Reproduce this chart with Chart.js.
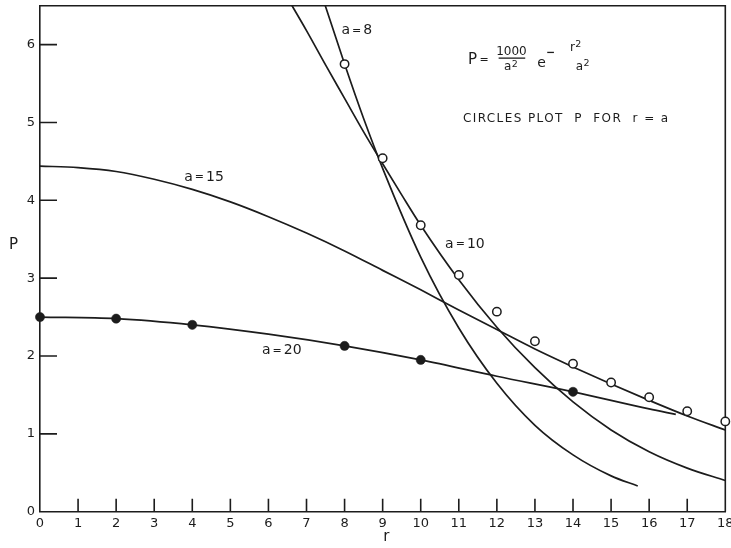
<!DOCTYPE html>
<html>
<head>
<meta charset="utf-8">
<script src="https://cdn.jsdelivr.net/npm/chart.js@4/dist/chart.umd.min.js"></script>
<style>
  html, body { margin: 0; padding: 0; background: #ffffff; }
  #wrap { width: 731px; height: 548px; }
</style>
</head>
<body>
<div id="wrap"><canvas id="chart" width="731" height="548"></canvas></div>
<script>
// P = (1000 / a^2) * exp(-r^2 / a^2), plotted against r for four values of a.
const rA8  = [7, 7.5, 8, 8.5, 9, 10, 11, 12, 13, 14, 15, 15.7];
const pA8  = [7.27, 6.49, 5.75, 5.05, 4.41, 3.27, 2.36, 1.65, 1.11, 0.73, 0.46, 0.33];

const rA10 = [6, 6.5, 7, 7.5, 8, 8.5, 9, 9.5, 10, 11, 12, 13, 14, 15, 16, 17, 18];
const pA10 = [7.02, 6.60, 6.18, 5.74, 5.31, 4.88, 4.47, 4.07, 3.68, 2.98, 2.37, 1.85, 1.41, 1.05, 0.77, 0.56, 0.40];

const rA15 = [0, 1, 2, 3, 4, 5, 6, 7, 8, 9, 10, 11, 12, 13, 14, 15, 16, 17, 18];
const pA15 = [4.44, 4.42, 4.37, 4.27, 4.14, 3.98, 3.79, 3.58, 3.35, 3.10, 2.85, 2.59, 2.34, 2.09, 1.86, 1.64, 1.43, 1.23, 1.05];

const rA20 = [0, 2, 4, 6, 8, 10, 12, 14, 16, 16.7];
const pA20 = [2.50, 2.48, 2.40, 2.28, 2.13, 1.95, 1.74, 1.54, 1.32, 1.25];

// open circles: P evaluated at r = a
const rOpen = [8, 9, 10, 11, 12, 13, 14, 15, 16, 17, 18];
const pOpen = [5.75, 4.54, 3.68, 3.04, 2.57, 2.19, 1.90, 1.66, 1.47, 1.29, 1.16];

// filled circles on the a = 20 curve
const rFilled = [0, 2, 4, 8, 10, 14];
const pFilled = [2.50, 2.48, 2.40, 2.13, 1.95, 1.54];

const xTicks = [0, 1, 2, 3, 4, 5, 6, 7, 8, 9, 10, 11, 12, 13, 14, 15, 16, 17, 18];
const yTicks = [0, 1, 2, 3, 4, 5, 6];

const curveLabels = ['a = 8', 'a = 10', 'a = 15', 'a = 20'];

const INK = '#1c1c1c';
const FONT = "'DejaVu Sans', 'Liberation Sans', sans-serif";

const pts = (xs, ys) => xs.map((x, i) => ({ x: x, y: ys[i] }));

function curve(xs, ys) {
  return {
    data: pts(xs, ys),
    showLine: true,
    pointRadius: 0,
    borderColor: INK,
    borderWidth: 1.7,
    fill: false,
    cubicInterpolationMode: 'monotone'
  };
}

// curve label anchors (data units: left edge, vertical centre)
const labelSpots = [
  { r: 7.92, p: 6.18 },
  { r: 10.64, p: 3.44 },
  { r: 3.79, p: 4.30 },
  { r: 5.83, p: 2.07 }
];

function drawCurveLabel(ctx, text, x, y) {
  const parts = text.split(' = ');
  ctx.textAlign = 'left';
  ctx.textBaseline = 'middle';
  ctx.font = '14px ' + FONT;
  ctx.fillText(parts[0], x, y);
  x += ctx.measureText(parts[0]).width + 2;
  ctx.font = '11px ' + FONT;
  ctx.fillText('=', x, y + 0.5);
  x += ctx.measureText('=').width + 2;
  ctx.font = '14px ' + FONT;
  ctx.fillText(parts[1], x, y);
}

// letter with a raised "2"
function drawSquared(ctx, letter, x, y) {
  ctx.textAlign = 'left';
  ctx.font = '12px ' + FONT;
  ctx.fillText(letter, x, y);
  const w = ctx.measureText(letter).width;
  ctx.font = '9.5px ' + FONT;
  ctx.fillText('2', x + w + 0.5, y - 2.5);
}

const framePlugin = {
  id: 'frame',
  beforeDatasetsDraw(chart) {
    const ctx = chart.ctx;
    const { left, right, top, bottom } = chart.chartArea;
    const xs = chart.scales.x, ys = chart.scales.y;
    ctx.save();
    ctx.strokeStyle = INK;
    ctx.lineWidth = 1.6;
    ctx.beginPath();
    ctx.moveTo(left, top);
    ctx.lineTo(right, top);
    ctx.lineTo(right, bottom);
    ctx.stroke();
    // inward tick marks
    ctx.beginPath();
    xTicks.forEach(v => {
      if (v > 0 && v < 18) {
        const px = xs.getPixelForValue(v);
        ctx.moveTo(px, bottom);
        ctx.lineTo(px, bottom - 13);
      }
    });
    yTicks.forEach(v => {
      if (v > 0) {
        const py = ys.getPixelForValue(v);
        ctx.moveTo(left, py);
        ctx.lineTo(left + 17, py);
      }
    });
    ctx.stroke();
    ctx.restore();
  },
  afterDraw(chart) {
    const ctx = chart.ctx;
    const xs = chart.scales.x, ys = chart.scales.y;
    ctx.save();
    ctx.fillStyle = INK;
    ctx.strokeStyle = INK;

    // axis titles, upright
    ctx.textAlign = 'center';
    ctx.textBaseline = 'middle';
    ctx.font = '15px ' + FONT;
    ctx.fillText('P', 13.5, ys.getPixelForValue(3.43));
    ctx.fillText('r', xs.getPixelForValue(9.1), 537);

    // curve labels
    curveLabels.forEach((t, i) => {
      drawCurveLabel(ctx, t, xs.getPixelForValue(labelSpots[i].r), ys.getPixelForValue(labelSpots[i].p));
    });

    // formula P = 1000/a^2 e^(-r^2/a^2)
    const fx = xs.getPixelForValue(11.24);
    const fy = ys.getPixelForValue(5.806);
    ctx.textAlign = 'left';
    ctx.font = '15px ' + FONT;
    ctx.fillText('P', fx, fy);
    ctx.font = '11px ' + FONT;
    ctx.fillText('=', fx + 11.5, fy + 0.7);
    ctx.textAlign = 'center';
    ctx.font = '12px ' + FONT;
    ctx.fillText('1000', fx + 43.5, fy - 7.6);
    ctx.lineWidth = 1.3;
    ctx.beginPath();
    ctx.moveTo(fx + 30.7, fy - 1.6);
    ctx.lineTo(fx + 57.3, fy - 1.6);
    ctx.stroke();
    drawSquared(ctx, 'a', fx + 36, fy + 7.4);
    ctx.textAlign = 'left';
    ctx.font = '14px ' + FONT;
    ctx.fillText('e', fx + 69.3, fy + 3.5);
    ctx.beginPath();
    ctx.moveTo(fx + 79.3, fy - 7.3);
    ctx.lineTo(fx + 86, fy - 7.3);
    ctx.stroke();
    drawSquared(ctx, 'r', fx + 102, fy - 12.3);
    drawSquared(ctx, 'a', fx + 107.7, fy + 6.7);

    // note on the circle markers
    ctx.textAlign = 'left';
    ctx.font = '12px ' + FONT;
    ctx.letterSpacing = '1.4px';
    ctx.fillText('CIRCLES PLOT  P  FOR  r = a', xs.getPixelForValue(11.11), ys.getPixelForValue(5.05));
    ctx.restore();
  }
};

new Chart(document.getElementById('chart'), {
  type: 'scatter',
  data: {
    datasets: [
      {
        data: pts(rOpen, pOpen),
        showLine: false,
        pointRadius: 4.2,
        pointBackgroundColor: '#ffffff',
        pointBorderColor: INK,
        pointBorderWidth: 1.5,
        clip: false
      },
      {
        data: pts(rFilled, pFilled),
        showLine: false,
        pointRadius: 4.6,
        pointBackgroundColor: INK,
        pointBorderColor: INK,
        pointBorderWidth: 0.5,
        clip: false
      },
      curve(rA8, pA8),
      curve(rA10, pA10),
      curve(rA15, pA15),
      curve(rA20, pA20)
    ]
  },
  options: {
    responsive: false,
    animation: false,
    events: [],
    layout: { padding: { top: 3.3, right: 3.5, left: 0, bottom: 0 } },
    plugins: { legend: { display: false }, tooltip: { enabled: false } },
    scales: {
      x: {
        type: 'linear',
        min: 0,
        max: 18,
        grid: { display: false, drawTicks: false },
        border: { color: INK, width: 1.6 },
        ticks: {
          stepSize: 1,
          padding: 4,
          color: INK,
          autoSkip: false,
          maxRotation: 0,
          font: { family: FONT, size: 13 }
        },
        afterBuildTicks(s) { s.ticks = xTicks.map(v => ({ value: v })); },
        afterFit(s) { s.height = 36.3; s.paddingLeft = 0; s.paddingRight = 0; }
      },
      y: {
        type: 'linear',
        min: 0,
        max: 6.5,
        grid: { display: false, drawTicks: false },
        border: { color: INK, width: 1.6 },
        ticks: {
          stepSize: 1,
          padding: 5,
          color: INK,
          font: { family: FONT, size: 13 }
        },
        afterBuildTicks(s) { s.ticks = yTicks.map(v => ({ value: v })); },
        afterFit(s) { s.width = 40; s.paddingTop = 0; s.paddingBottom = 0; }
      }
    }
  },
  plugins: [framePlugin]
});
</script>
</body>
</html>
